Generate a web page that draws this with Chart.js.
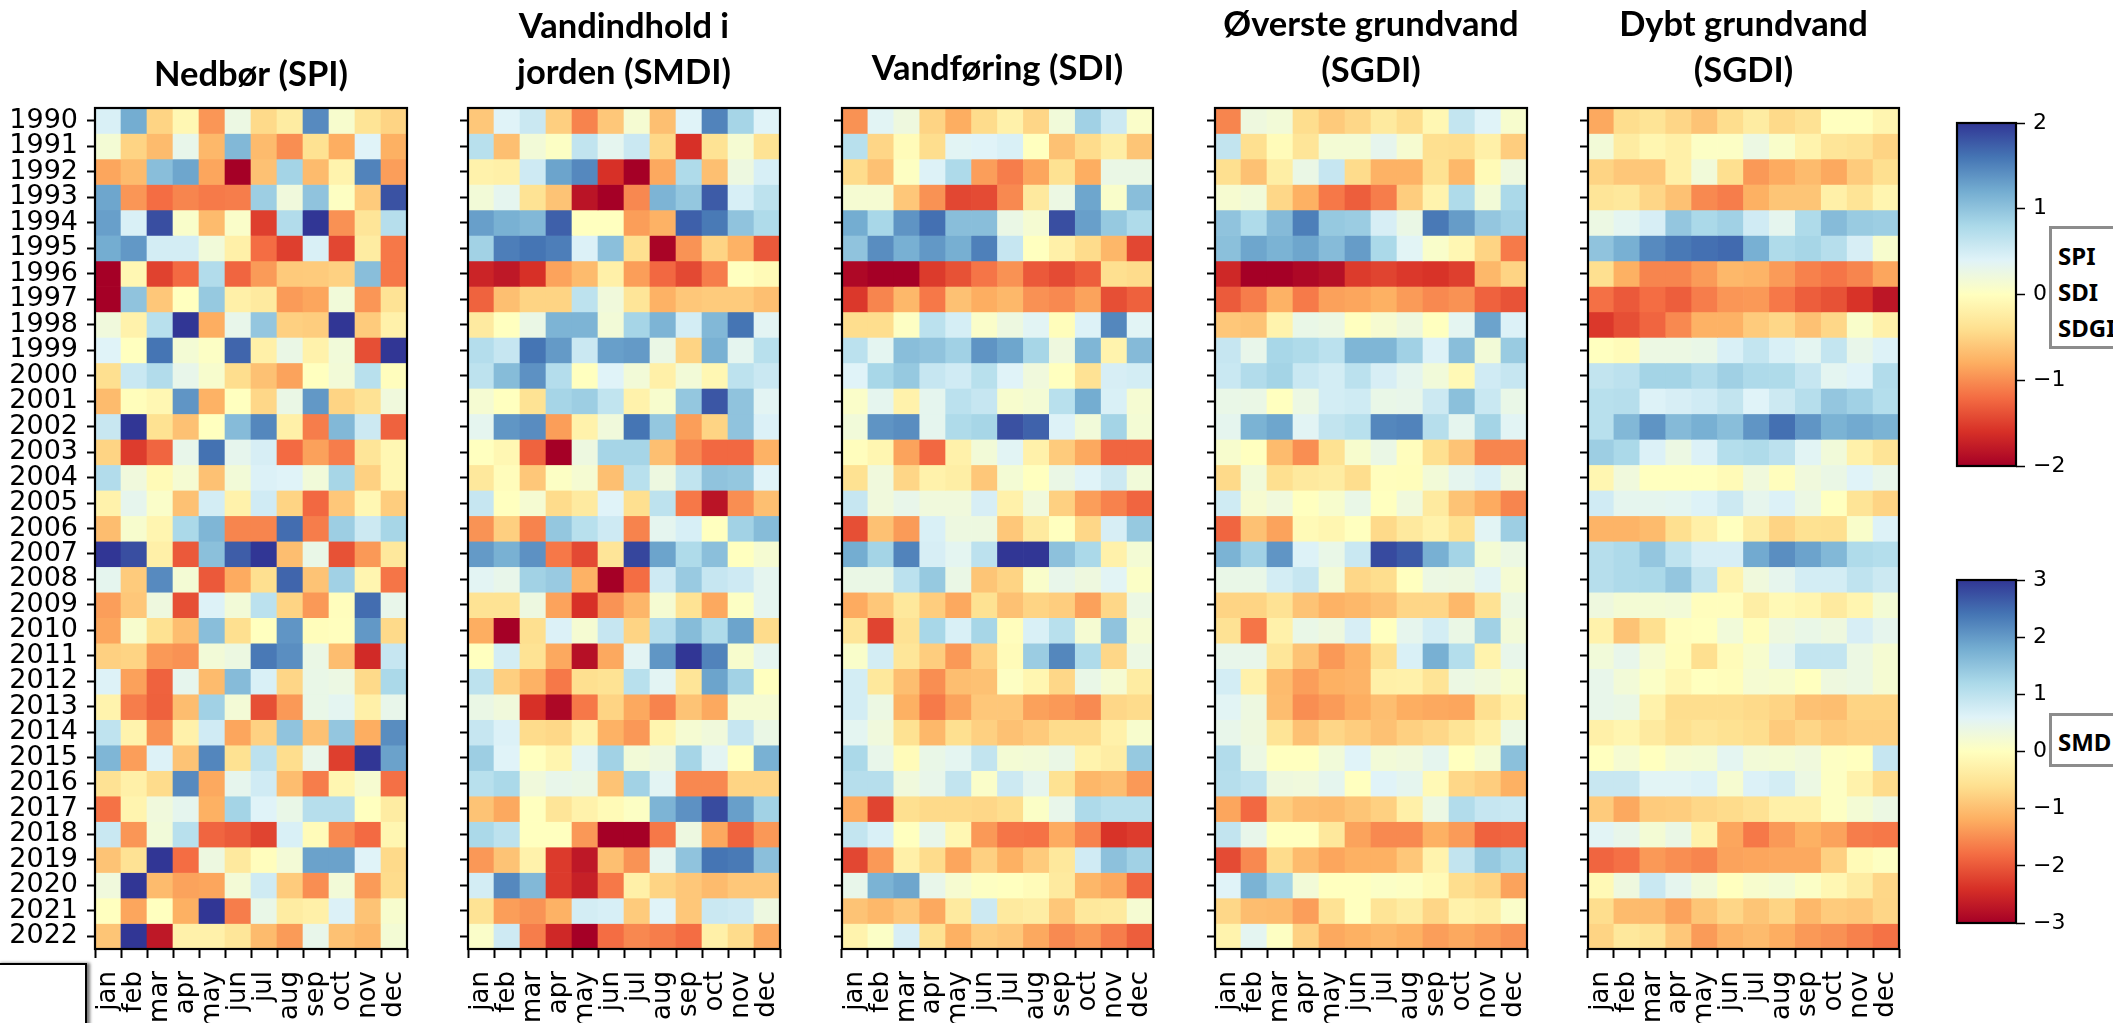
<!DOCTYPE html>
<html lang="en">
<head>
    <meta charset="UTF-8">
    <title>Tørkeindeks 1990-2022</title>
    <script src="https://cdn.jsdelivr.net/npm/chart.js"></script>
    <style>
        html, body {
            margin: 0;
            width: 2113px;
            height: 1023px;
            overflow: hidden;
            background: white;
        }
        canvas {
            position: absolute;
        }
        .note {
            position: absolute;
            left: 2049px;
            width: 100px;
            box-sizing: border-box;
            border: 3px solid #8c8c8c;
            background: white;
            padding-left: 6px;
            font: bold 24px/36px "Noto Sans", sans-serif;
            color: black;
        }
        /* leftover empty box in the bottom left corner */
        #stub {
            position: absolute;
            left: -3px;
            top: 963px;
            width: 86px;
            height: 80px;
            border: 2px solid black;
            background: white;
            box-shadow: 3px 0 3px #777;
        }
    </style>
</head>
<body>
    <div id="stub"></div>
    <div class="note" style="top:226px;height:123px;padding-top:9px">SPI<br>SDI<br>SDGI</div>
    <div class="note" style="top:713px;height:54px;padding-top:8px">SMD</div>

    <script>
        const months = ['jan', 'feb', 'mar', 'apr', 'may', 'jun', 'jul', 'aug', 'sep', 'oct', 'nov', 'dec'];
        const years = [1990, 1991, 1992, 1993, 1994, 1995, 1996, 1997, 1998, 1999, 2000, 2001, 2002, 2003, 2004, 2005, 2006,
            2007, 2008, 2009, 2010, 2011, 2012, 2013, 2014, 2015, 2016, 2017, 2018, 2019, 2020, 2021, 2022];
        const smallTicks = [-2, -1, 0, 1, 2];
        const wideTicks = [-3, -2, -1, 0, 1, 2, 3];

        // values, one row per year
        const spi = [
            [.45, 1.2, -.5, -.1, -.95, .25, -.45, -.25, 1.45, .1, -.35, -.5],
            [.15, -.5, -.7, .3, -.72, 1.1, -.7, -1, -.38, -.8, .4, -.78],
            [-.85, -.7, 1.05, 1.25, -.85, -2, -.65, .85, -.7, -.15, 1.5, -.9],
            [1.25, -.95, -1.2, -1.05, -1.12, -1.1, .9, .2, 1, .02, -.57, 1.82],
            [1.3, .45, 1.85, .08, -.7, .07, -1.5, .75, 2, -.98, -.33, .72],
            [1.2, 1.35, .5, .5, .18, -.2, -1.2, -1.5, .45, -1.45, -.25, -1.13],
            [-2, -.1, -1.48, -1.22, .75, -1.25, -.92, -.58, -.57, -.52, 1.05, -1.13],
            [-2, 1, -.6, 0, .95, -.2, -.27, -.92, -.85, .18, -.95, -.36],
            [.2, -.17, .7, 2, -.8, .3, .97, -.53, -.55, 2, -.57, -.18],
            [.4, 0, 1.6, .15, .04, 1.7, -.2, .27, -.17, .18, -1.4, 2],
            [-.4, .57, .75, .3, .1, -.42, -.65, -.87, 0, .17, .7, -.02],
            [-.7, -.03, -.1, 1.37, -.77, 0, -.47, .27, 1.35, -.5, -.37, .2],
            [.58, 2, -.38, -.65, 0, 1.07, 1.47, -.2, -1.1, 1.1, .55, -1.27],
            [-.5, -1.52, -1.25, .3, 1.62, .32, .47, -1.22, -.88, -1.1, -.33, -.1],
            [.75, .2, -.07, .13, -.65, .17, .43, .4, .18, .83, -.52, -.1],
            [-.17, .32, .07, -.65, .5, -.17, .52, -.5, -1.23, -.6, -.1, -.55],
            [-.68, .1, -.13, .8, 1.12, -1.05, -1.05, 1.65, -1.1, .9, .55, .83],
            [2, 1.85, -.2, -1.33, 1.03, 1.75, 2, -.67, .28, -1.38, -.93, -.3],
            [.33, -.57, 1.45, .15, -1.33, -.82, -.4, 1.7, -.63, .87, -.13, -1.15],
            [-.9, -.6, .22, -1.4, .42, .17, .68, -.5, -.93, -.02, 1.65, .3],
            [-.85, .1, -.38, -.67, 1.05, -.4, 0, 1.37, -.03, -.01, 1.35, -.45],
            [-.53, -.5, -.93, -.97, .17, .24, 1.57, 1.42, .27, -.68, -1.65, .6],
            [.42, -.88, -1.27, .32, -.7, 1.07, .45, -.48, .28, .25, -.45, .8],
            [-.15, -1.1, -1.28, -.68, .87, .16, -1.4, -.93, .28, .35, -.2, .3],
            [.65, -.15, -.97, -.18, .52, -.85, -.52, 1, -.65, .97, -.8, 1.43],
            [1.12, -.9, .42, -.63, 1.48, -.38, .67, -.42, .3, -1.5, 2, 1.28],
            [-.37, -.2, -.43, 1.45, -.83, .32, .52, -.68, -1.1, -.12, .12, -1.18],
            [-1.17, -.14, .2, .33, -.78, .85, .4, .28, .72, .72, 0, -.25],
            [.57, -.95, .18, .7, -1.25, -1.32, -1.47, .45, -.05, -1.03, -1.22, -.12],
            [-.63, -.37, 2, -1.2, .23, -.28, -.02, .16, 1.28, 1.28, .4, -.45],
            [.2, 2, -.7, -.87, -.85, .16, .53, -.57, -1, .17, -.92, -.43],
            [0, -.85, 0, -.78, 2, -1.1, .28, -.25, -.2, .43, -.63, .1],
            [-.62, 2, -1.8, -.18, -.18, -.32, -.7, -.92, .3, -.65, -.72, .15]
        ];
        const smdi = [
            [-.9, .6, .85, -.8, -1.6, -.9, .2, -1, .6, 2.25, 1.25, .6],
            [1.05, -1, .25, .05, .95, .5, .85, -.7, -2.4, -.55, .2, -.55],
            [-.25, -.3, .8, 1.9, 2.2, -2.4, -3, -1.25, 1.15, -1, .35, .7],
            [.25, .5, -.55, -.95, -2.75, -3, -1.55, 1.7, 1.45, 2.65, .7, 1],
            [1.95, 1.75, 1.65, 2.6, 0, 0, -1.35, -1.15, 2.6, 2.35, 1.5, 1.15],
            [1.3, 2.3, 2.4, 2.3, .65, 1.55, -.6, -2.95, -1.45, -.75, -1.15, -2],
            [-2.55, -2.7, -2.4, -1.3, -1.05, -.3, -1.35, -1.85, -2.15, -1.65, 0, -.1],
            [-1.9, -1, -.75, -.75, 1, .3, -.5, -1.15, -.9, -.85, -.85, -1],
            [-.4, 0, .4, 1.7, 1.7, .25, 1.25, 1.7, .75, 1.65, 2.4, .55],
            [1.1, .9, 2.4, 2, .85, 1.95, 2, .4, -.75, 1.75, .5, 1.05],
            [1, 1.6, 2.1, 1.1, 0, .6, .25, -.3, .25, -.15, 1, .85],
            [.2, 0, -.55, 1.25, 1.35, .95, -.25, .15, 1.45, 2.7, 1.5, .55],
            [.5, 2.05, 2.15, -1.35, -.25, .3, 2.4, 1.45, -1.35, -.75, 1.5, .65],
            [0, -.15, -1.9, -3, .35, 1.25, 1.25, -1, -1.55, -1.85, -1.85, -1.15],
            [-.45, -.05, -.9, .05, .2, -1, 1.05, .35, .95, 1.5, 1.45, .6],
            [.9, 0, .2, -.65, -.4, .6, -.6, 1, -1.7, -2.75, -1.5, -1],
            [-1.45, -.8, -1.6, 1.45, 1.05, .8, -1.6, .5, .7, 0, 1.3, 1.6],
            [2, 1.75, 2.1, -1.7, -2.15, -.5, 2.85, 1.9, 1.15, 1.55, 0, .2],
            [.55, .45, 1.3, 1.4, -1.15, -3, -1.8, .8, 1.4, .9, .8, .5],
            [-.55, -.55, .35, -1.3, -2.4, -1.45, -1.1, .2, -.55, -1.25, .05, .5],
            [-1.2, -3, -.6, .65, .2, .9, -.75, 1.1, 1.6, 1.15, 1.9, -.65],
            [0, .75, -.55, -1.25, -2.8, -1.25, .55, 2.05, 3, 2.25, .15, .5],
            [1, -.8, -1.15, -1.7, -.6, -.55, 1.05, .55, -.5, 1.9, 1.3, 0],
            [.4, .3, -2.4, -2.9, -1.7, -.75, -1.25, -1.6, -.95, -1.25, .2, .2],
            [.9, .65, -.65, -.7, -.25, -1.15, -1.4, -.2, .2, .3, .9, .4],
            [1.35, .6, 0, -.2, .55, 1.3, .25, .35, 1.25, .55, 0, 1.75],
            [1.05, 1.2, .3, .45, .4, -.95, 1.3, .55, -1.55, -1.55, -.75, -.75],
            [-.95, -1.25, 0, -.5, -.25, -.1, .05, 1.7, 2.1, 2.8, 1.95, 1.3],
            [1.2, 1, 0, 0, -1.4, -3, -3, -1.7, .35, -1.25, -1.9, -1.4],
            [-1.4, -.95, -.25, -2.3, -2.7, -1, -1.45, .5, 1.5, 2.4, 2.35, 1.55],
            [.75, 2.2, 1.65, -2.3, -2.6, -1.7, -.3, -.75, -.9, -1.05, -.9, -.9],
            [-.55, -1.35, -1.45, -1.15, .75, .7, -.85, .6, -.9, .85, .8, .35],
            [.1, .8, -1.65, -2.5, -3, -1.8, -1.55, -1.65, -1.8, -.3, -.65, -1.25]
        ];
        const sdi = [
            [-.97, .37, .22, -.5, -.8, -.43, -.18, -.48, .18, .87, .55, .07],
            [.7, -.48, -.05, -.42, .37, .4, .45, 0, -.65, -.43, -.22, -.62],
            [-.43, -.65, .02, .42, .78, -.9, -1.1, -.85, -.38, -.8, .27, .27],
            [.13, .13, -.6, -.97, -1.45, -1.42, -1.03, -.28, .25, 1.25, .08, 1.05],
            [1.2, .82, 1.38, 1.63, 1.05, 1.05, .27, .13, 1.85, 1.3, .95, .77],
            [1, 1.43, 1.17, 1.35, 1.18, 1.52, .6, 0, -.2, -.43, -.73, -1.45],
            [-1.93, -2, -2, -1.53, -1.38, -1.15, -.97, -1.33, -1.42, -1.3, -.4, -.43],
            [-1.55, -1.05, -.72, -1.13, -.65, -.8, -.72, -.98, -1.03, -.87, -1.4, -1.28],
            [-.42, -.42, .03, .68, .48, .07, .23, .37, -.03, .42, 1.47, .38],
            [.68, .35, 1.05, 1, .87, 1.38, 1.25, .83, .22, 1.12, -.15, 1.08],
            [.4, .82, .95, .6, .52, .7, .4, .2, 0, -.37, .47, .5],
            [.07, .33, -.17, .33, .68, .6, .1, .15, .7, 1.2, .45, .13],
            [.18, 1.38, 1.43, .33, .77, .83, 1.83, 1.72, .42, .18, .85, .15],
            [-.02, -.12, -.87, -1.23, -.18, .17, .37, -.18, -.57, -.83, -1.25, -1.25],
            [-.38, .2, -.48, -.17, -.22, -.6, .15, 0, .27, .4, .55, .18],
            [.6, .2, .3, .2, .2, .47, -.18, .2, -.53, -.9, -1.07, -1.25],
            [-1.4, -.65, -.92, .45, .23, .23, -.6, -.27, 0, -.47, .47, .95],
            [1.2, .85, 1.5, .47, .35, .67, 2, 2, 1.02, .8, -.18, .15],
            [.27, .27, .68, .95, .27, -.62, -.5, .08, .3, .22, .38, .05],
            [-.82, -.6, -.3, -.55, -.83, -.38, -.65, -.5, -.55, -.88, -.47, .25],
            [-.33, -1.47, -.37, .82, .45, .83, -.02, .45, .7, .13, 1, .13],
            [.08, .5, -.32, -.55, -.93, -.53, -.05, .92, 1.47, .77, -.47, .25],
            [.5, -.3, -.67, -1, -.67, -.65, .03, -.12, -.47, .28, .13, -.25],
            [.5, .25, -.78, -1.12, -.87, -.6, -.6, -.88, -.93, -1.02, -.47, -.43],
            [.35, .2, -.38, -.72, -.4, -.53, -.65, -.58, -.43, -.43, -.18, .1],
            [.8, .3, -.05, .28, .35, .63, .15, .17, .27, -.15, -.23, .95],
            [.72, .72, .2, .3, .63, .07, .55, .33, -.38, -.73, -.67, -.93],
            [-.82, -1.47, -.4, -.45, -.45, -.47, -.42, .05, .3, .78, .7, .7],
            [.62, .45, 0, .3, -.1, -.93, -1.15, -1.17, -.82, -1.07, -1.58, -1.52],
            [-1.45, -.93, -.2, -.43, -.85, -.53, -.78, -.57, -.3, .52, 1.02, .87],
            [.3, 1.15, 1.25, .3, .12, .02, 0, -.05, -.27, -.73, -.83, -1.25],
            [-.63, -.72, -.6, -.83, -.27, .55, -.27, -.23, -.6, -.3, -.27, .13],
            [-.15, .05, .47, -.38, -.78, -.55, -.6, -.83, -1.02, -.93, -1.1, -1.3]
        ];
        const shallowSgdi = [
            [-1.05, .22, .17, -.42, -.58, -.47, -.27, -.42, -.1, .62, .4, .1],
            [.63, -.4, -.05, -.33, .15, .15, .32, .12, -.4, -.42, -.2, -.55],
            [-.4, -.65, -.22, .27, .6, -.43, -.77, -.77, -.38, -.72, -.07, .22],
            [.12, .18, -.47, -.78, -1.13, -1.3, -1.1, -.55, -.15, .77, .17, .8],
            [1, .77, 1.08, 1.53, .95, .92, .47, .27, 1.57, 1.32, .97, .87],
            [1.03, 1.25, 1.15, 1.25, 1.07, 1.32, .8, .38, .08, -.1, -.5, -1.12],
            [-1.67, -2, -2, -1.93, -1.87, -1.53, -1.47, -1.55, -1.58, -1.5, -.72, -.5],
            [-1.32, -1.1, -.77, -1.12, -.88, -.85, -.78, -.92, -1.03, -.97, -1.27, -1.37],
            [-.6, -.63, -.15, .28, .25, 0, .12, .22, 0, .35, 1.27, .43],
            [.6, .3, .82, .77, .68, 1.12, 1.12, .87, .42, 1.05, .17, .93],
            [.57, .75, .85, .57, .5, .68, .47, .33, .18, -.08, .52, .6],
            [.28, .27, 0, .25, .5, .53, .28, .3, .55, 1.03, .57, .28],
            [.33, 1.15, 1.25, .37, .63, .7, 1.47, 1.5, .72, .33, .85, .37],
            [.1, 0, -.7, -1, -.38, .1, .27, -.02, -.4, -.63, -1.05, -1.05],
            [-.45, .18, -.4, -.28, -.25, -.42, -.02, -.03, .17, .33, .45, .22],
            [.53, .12, .2, 0, .1, .28, 0, .2, -.27, -.63, -.82, -1.05],
            [-1.25, -.65, -.87, -.07, -.12, 0, -.45, -.28, -.17, -.38, .37, .9],
            [1.15, .87, 1.37, .42, .28, .57, 1.87, 1.77, 1.17, .85, .15, .25],
            [.28, .28, .5, .6, .17, -.47, -.42, 0, .25, .23, .37, .13],
            [-.5, -.5, -.37, -.63, -.77, -.72, -.65, -.48, -.48, -.72, -.37, .25],
            [-.37, -1.15, -.18, .28, .22, .47, 0, .32, .5, .27, .87, .17],
            [.3, .3, -.32, -.63, -.93, -.77, -.4, .45, 1.17, .73, -.15, .3],
            [.5, -.18, -.7, -.9, -.78, -.75, -.2, -.18, -.35, .25, .2, .1],
            [.37, .23, -.68, -1, -.92, -.8, -.67, -.8, -.83, -.85, -.4, -.2],
            [.3, .22, -.35, -.65, -.48, -.55, -.65, -.53, -.47, -.35, -.2, .25],
            [.75, .25, 0, 0, .18, .4, .17, .2, .33, 0, .15, 1.03],
            [.72, .65, .22, .2, .33, 0, .4, .33, -.08, -.47, -.55, -.78],
            [-.85, -1.23, -.55, -.67, -.7, -.62, -.53, -.2, .25, .75, .6, .57],
            [.63, .3, 0, 0, -.3, -.87, -1.03, -1.03, -.78, -.92, -1.27, -1.25],
            [-1.42, -1.03, -.43, -.7, -.85, -.78, -.78, -.6, -.15, .63, .95, .82],
            [.4, 1.15, .85, .17, 0, 0, .05, .03, -.07, -.42, -.5, -.87],
            [-.47, -.68, -.7, -.9, -.37, 0, -.35, -.25, -.48, -.17, -.22, .07],
            [-.15, .35, .02, -.52, -.83, -.78, -.72, -.78, -.9, -.83, -.9, -.97]
        ];
        const deepSgdi = [
            [-.83, -.42, -.35, -.48, -.63, -.42, -.25, -.45, -.37, 0, 0, -.13],
            [.17, -.25, -.12, -.2, .04, .04, .25, .08, -.15, -.33, -.37, -.5],
            [-.5, -.6, -.6, -.2, .18, -.4, -.93, -.82, -.7, -.83, -.57, -.4],
            [-.33, -.3, -.48, -.65, -1.03, -1.1, -.78, -.62, -.62, -.2, -.35, -.13],
            [.25, .35, .47, .97, .8, .87, .52, .33, .77, 1.07, .93, .9],
            [1, 1.17, 1.45, 1.57, 1.63, 1.67, 1.17, .77, .83, .72, .47, .1],
            [-.4, -.78, -1.05, -1.05, -.92, -.72, -.75, -.92, -1.08, -1.15, -1.05, -.85],
            [-1.18, -1.33, -1.2, -1.3, -1.1, -.95, -.93, -1.13, -1.3, -1.38, -1.58, -1.82],
            [-1.55, -1.4, -1.25, -1.03, -.77, -.77, -.57, -.47, -.65, -.47, .08, -.18],
            [0, -.05, .25, .25, .28, .45, .62, .45, .35, .62, .3, .42],
            [.63, .67, .85, .85, .75, .88, .78, .77, .6, .35, .4, .75],
            [.7, .72, .42, .47, .52, .63, .4, .55, .72, .97, .87, .73],
            [.7, 1.1, 1.38, 1.08, 1.17, 1.05, 1.37, 1.63, 1.37, 1.15, 1.22, 1.15],
            [.9, .8, .43, .25, .43, .73, .77, .67, .37, .18, -.18, -.35],
            [-.12, .2, 0, 0, 0, -.07, .2, -.02, .2, .27, .4, .3],
            [.52, .33, .33, .35, .42, .55, .32, .43, .25, 0, -.35, -.5],
            [-.75, -.75, -.7, -.4, -.2, 0, -.25, -.5, -.38, -.4, .08, .42],
            [.72, .78, .97, .65, .47, .47, 1.22, 1.42, 1.27, 1.1, .77, .73],
            [.72, .78, .8, .97, .63, -.15, .2, .32, .5, .5, .65, .55],
            [.22, .15, .15, .17, -.02, -.02, -.22, -.08, -.13, -.27, -.13, .15],
            [-.17, -.63, -.4, -.02, 0, .18, -.03, .22, .28, .22, .47, .32],
            [.18, .3, .12, -.03, -.4, -.05, .1, .33, .62, .62, .25, .13],
            [.3, .17, .05, -.1, 0, -.03, .13, .1, 0, .22, .25, .13],
            [.3, .27, -.17, -.42, -.42, -.42, -.45, -.5, -.65, -.67, -.5, -.5],
            [-.2, -.13, -.27, -.4, -.33, -.38, -.42, -.57, -.48, -.57, -.53, -.53],
            [0, .13, 0, .13, .15, .35, .17, .15, .2, .03, 0, .6],
            [.58, .58, .38, .38, .42, .12, .43, .5, .25, .03, -.17, -.43],
            [-.57, -.83, -.57, -.55, -.47, -.43, -.37, -.2, -.2, .03, .15, .25],
            [.38, .3, .15, .27, -.17, -.85, -1.13, -.93, -.78, -.87, -1.1, -1.13],
            [-1.25, -1.18, -.93, -1, -1.05, -.87, -.85, -.83, -.83, -.53, -.07, .02],
            [-.08, .22, .57, .33, .18, 0, .1, .15, .05, -.1, -.25, -.47],
            [-.42, -.7, -.7, -.87, -.62, -.48, -.62, -.5, -.72, -.57, -.6, -.48],
            [-.5, -.3, -.35, -.6, -.92, -.75, -.7, -.8, -.93, -.98, -1.08, -1.17]
        ];

        const panels = [
            {rows: spi, limit: 2, left: 95, width: 312, title: 'Nedbør (SPI)', titleTop: 52, yLabels: true},
            {rows: smdi, limit: 3, left: 468, width: 312, title: ['Vandindhold i', 'jorden (SMDI)'], titleTop: 4},
            {rows: sdi, limit: 2, left: 842, width: 311, title: 'Vandføring (SDI)', titleTop: 46},
            {rows: shallowSgdi, limit: 2, left: 1215, width: 312, title: ['Øverste grundvand', '(SGDI)'], titleTop: 2},
            {rows: deepSgdi, limit: 2, left: 1588, width: 311, title: ['Dybt grundvand', '(SGDI)'], titleTop: 2}
        ];

        // RdYlBu, low to high
        const colourStops = ['#a50026', '#d73027', '#f46d43', '#fdae61', '#fee090', '#ffffbf', '#e0f3f8', '#abd9e9', '#74add1', '#4575b4', '#313695'];
        const stopRgb = colourStops.map(c => [1, 3, 5].map(i => parseInt(c.slice(i, i + 2), 16)));

        function colourFor(value, limit) {
            const t = Math.min(Math.max((value + limit) / (2 * limit), 0), 1) * (stopRgb.length - 1);
            const i = Math.min(Math.floor(t), stopRgb.length - 2);
            const mix = stopRgb[i].map((c, k) => Math.round(c + (stopRgb[i + 1][k] - c) * (t - i)));
            return `rgb(${mix[0]}, ${mix[1]}, ${mix[2]})`;
        }

        // matplotlib style closed frame
        const framePlugin = {
            id: 'frame',
            afterDatasetsDraw(chart) {
                const {ctx, chartArea: a} = chart;
                ctx.save();
                ctx.strokeStyle = 'black';
                ctx.lineWidth = 2.2;
                ctx.strokeRect(a.left, a.top, a.right - a.left, a.bottom - a.top);
                ctx.restore();
            }
        };

        // labels may hang over the plot edge, the plot itself should not shrink for them
        function noLabelPadding(scale) {
            scale.paddingLeft = 0;
            scale.paddingRight = 0;
            scale.paddingTop = 0;
            scale.paddingBottom = 0;
        }

        const plotTop = 108;
        const plotBottom = 949;
        const fullHeight = 1023;
        const titleLine = 46;

        function addCanvas(left, top, width, height) {
            const canvas = document.createElement('canvas');
            canvas.style.left = left + 'px';
            canvas.style.top = top + 'px';
            canvas.style.width = width + 'px';
            canvas.style.height = height + 'px';
            canvas.width = width;
            canvas.height = height;
            document.body.appendChild(canvas);
            return canvas;
        }

        panels.forEach(panel => {
            const axisWidth = panel.yLabels ? 95 : 30;
            const rightRoom = 24;
            const canvas = addCanvas(panel.left - axisWidth, 0, axisWidth + panel.width + rightRoom, fullHeight);
            const lineCount = Array.isArray(panel.title) ? panel.title.length : 1;
            const titleHeight = lineCount * titleLine;

            new Chart(canvas, {
                type: 'bar',
                data: {
                    labels: months,
                    // one stacked dataset per year, every cell is one unit tall
                    datasets: years.map((year, r) => ({
                        label: String(year),
                        data: months.map(() => 1),
                        backgroundColor: panel.rows[r].map(v => colourFor(v, panel.limit)),
                        borderWidth: 0,
                        barPercentage: 1,
                        categoryPercentage: 1
                    }))
                },
                options: {
                    responsive: false,
                    animation: false,
                    layout: {padding: {right: rightRoom, left: 0, top: 0, bottom: 0}},
                    plugins: {
                        legend: {display: false},
                        tooltip: {enabled: false},
                        title: {
                            display: true,
                            fullSize: false,
                            text: panel.title,
                            color: 'black',
                            font: {family: 'Lato', size: 34.5, weight: 'bold', lineHeight: titleLine / 34.5},
                            padding: {top: panel.titleTop, bottom: plotTop - panel.titleTop - titleHeight}
                        }
                    },
                    scales: {
                        x: {
                            stacked: true,
                            border: {display: false},
                            grid: {drawOnChartArea: false, tickLength: 9, tickWidth: 2, tickColor: 'black'},
                            ticks: {
                                color: 'black',
                                font: {family: 'DejaVu Sans', size: 26},
                                minRotation: 90,
                                maxRotation: 90,
                                autoSkip: false,
                                padding: 13
                            },
                            afterFit: scale => {
                                scale.height = fullHeight - plotBottom;
                                noLabelPadding(scale);
                            }
                        },
                        y: {
                            stacked: true,
                            reverse: true,
                            min: 0,
                            max: years.length,
                            border: {display: false},
                            grid: {drawOnChartArea: false, tickLength: 8, tickWidth: 2, tickColor: 'black'},
                            afterBuildTicks: scale => { scale.ticks = years.map((y, i) => ({value: i + 0.5})); },
                            ticks: {
                                color: 'black',
                                font: {family: 'DejaVu Sans', size: 27},
                                autoSkip: false,
                                padding: 9,
                                callback: value => panel.yLabels ? years[value - 0.5] : ''
                            },
                            afterFit: scale => {
                                scale.width = axisWidth;
                                noLabelPadding(scale);
                            }
                        }
                    }
                },
                plugins: [framePlugin]
            });
        });

        function addColourbar(top, tickValues) {
            const limit = tickValues[tickValues.length - 1];
            const barLeft = 1957;
            const barRight = 2016;
            const pad = 16;
            const canvas = addCanvas(barLeft - 7, top - pad, 2113 - barLeft + 7, 343 + pad * 2);
            new Chart(canvas, {
                type: 'bar',
                data: {
                    labels: [''],
                    datasets: [{
                        data: [[-limit, limit]],
                        borderWidth: 0,
                        barPercentage: 1,
                        categoryPercentage: 1,
                        backgroundColor: context => {
                            const area = context.chart.chartArea;
                            if (!area) return colourStops[5];
                            const gradient = context.chart.ctx.createLinearGradient(0, area.bottom, 0, area.top);
                            colourStops.forEach((c, i) => gradient.addColorStop(i / (colourStops.length - 1), c));
                            return gradient;
                        }
                    }]
                },
                options: {
                    responsive: false,
                    animation: false,
                    layout: {padding: {left: 7, top: pad, bottom: pad, right: 0}},
                    plugins: {legend: {display: false}, tooltip: {enabled: false}},
                    scales: {
                        x: {display: false},
                        y: {
                            position: 'right',
                            min: -limit,
                            max: limit,
                            border: {display: false},
                            grid: {drawOnChartArea: false, tickLength: 9, tickWidth: 1.5, tickColor: 'black'},
                            afterBuildTicks: scale => { scale.ticks = tickValues.map(v => ({value: v})); },
                            ticks: {
                                color: 'black',
                                font: {family: 'DejaVu Sans', size: 22},
                                padding: 8,
                                autoSkip: false,
                                callback: value => String(value).replace('-', '\u2212')
                            },
                            afterFit: scale => {
                                scale.width = 2113 - barRight;
                                noLabelPadding(scale);
                            }
                        }
                    }
                },
                plugins: [framePlugin]
            });
        }

        addColourbar(123, smallTicks);
        addColourbar(580, wideTicks);
    </script>
</body>
</html>
